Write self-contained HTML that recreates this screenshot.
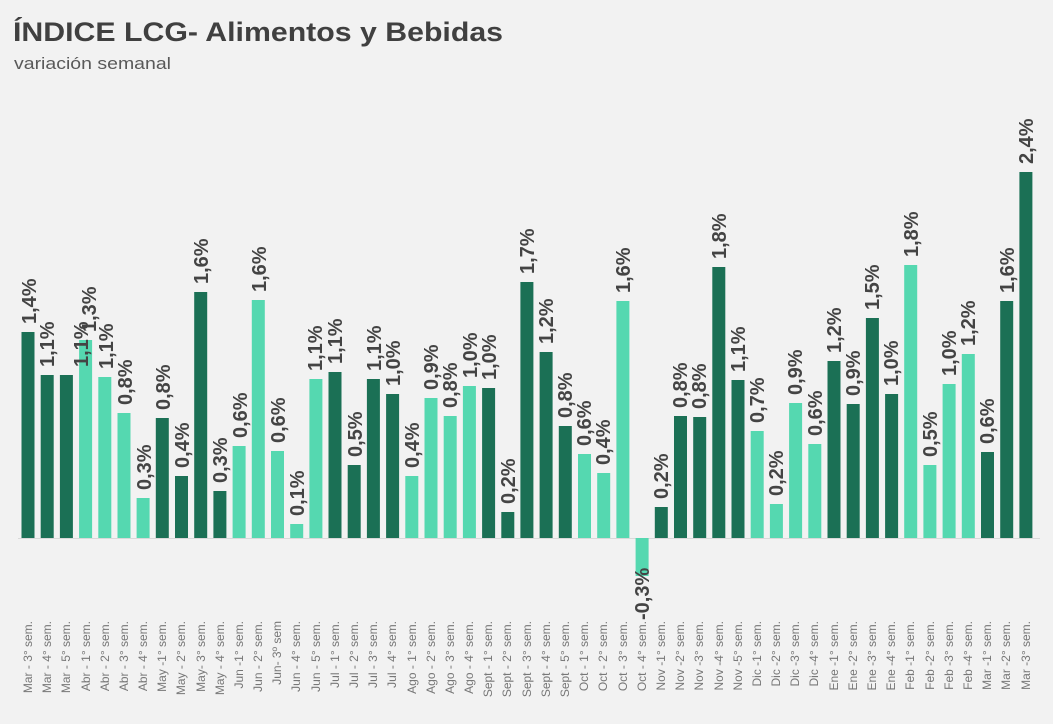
<!DOCTYPE html>
<html><head><meta charset="utf-8"><style>
html,body{margin:0;padding:0;background:#f2f2f2;}
svg{display:block;}
.d{fill:#1b7055}.l{fill:#55d8b0}
.v{font:bold 20px "Liberation Sans",sans-serif;fill:#444;}
.x{font:12px "Liberation Sans",sans-serif;fill:#777;}
</style></head><body>
<svg width="1053" height="724" viewBox="0 0 1053 724">
<rect width="1053" height="724" fill="#f2f2f2"/>
<text x="13" y="41" font-family="Liberation Sans,sans-serif" font-weight="bold" font-size="27" fill="#404040" textLength="490" lengthAdjust="spacingAndGlyphs">ÍNDICE LCG- Alimentos y Bebidas</text>
<text x="14" y="69" font-family="Liberation Sans,sans-serif" font-size="17" fill="#595959" textLength="157" lengthAdjust="spacingAndGlyphs">variación semanal</text>
<line x1="18" y1="538.5" x2="1040" y2="538.5" stroke="#d9d9d9" stroke-width="1"/>
<g>
<rect class="d" x="21.5" y="332" width="13" height="206"/>
<rect class="d" x="40.7" y="375" width="13" height="163"/>
<rect class="d" x="59.9" y="375" width="13" height="163"/>
<rect class="l" x="79.1" y="340" width="13" height="198"/>
<rect class="l" x="98.3" y="377" width="13" height="161"/>
<rect class="l" x="117.5" y="413" width="13" height="125"/>
<rect class="l" x="136.6" y="498" width="13" height="40"/>
<rect class="d" x="155.8" y="418" width="13" height="120"/>
<rect class="d" x="175" y="476" width="13" height="62"/>
<rect class="d" x="194.2" y="292" width="13" height="246"/>
<rect class="d" x="213.4" y="491" width="13" height="47"/>
<rect class="l" x="232.6" y="446" width="13" height="92"/>
<rect class="l" x="251.8" y="300" width="13" height="238"/>
<rect class="l" x="271" y="451" width="13" height="87"/>
<rect class="l" x="290.2" y="524" width="13" height="14"/>
<rect class="l" x="309.4" y="379" width="13" height="159"/>
<rect class="d" x="328.5" y="372" width="13" height="166"/>
<rect class="d" x="347.7" y="465" width="13" height="73"/>
<rect class="d" x="366.9" y="379" width="13" height="159"/>
<rect class="d" x="386.1" y="394" width="13" height="144"/>
<rect class="l" x="405.3" y="476" width="13" height="62"/>
<rect class="l" x="424.5" y="398" width="13" height="140"/>
<rect class="l" x="443.7" y="416" width="13" height="122"/>
<rect class="l" x="462.9" y="386" width="13" height="152"/>
<rect class="d" x="482.1" y="388" width="13" height="150"/>
<rect class="d" x="501.3" y="512" width="13" height="26"/>
<rect class="d" x="520.4" y="282" width="13" height="256"/>
<rect class="d" x="539.6" y="352" width="13" height="186"/>
<rect class="d" x="558.8" y="426" width="13" height="112"/>
<rect class="l" x="578" y="454" width="13" height="84"/>
<rect class="l" x="597.2" y="473" width="13" height="65"/>
<rect class="l" x="616.4" y="301" width="13" height="237"/>
<rect class="l" x="635.6" y="538" width="13" height="38"/>
<rect class="d" x="654.8" y="507" width="13" height="31"/>
<rect class="d" x="674" y="416" width="13" height="122"/>
<rect class="d" x="693.2" y="417" width="13" height="121"/>
<rect class="d" x="712.3" y="267" width="13" height="271"/>
<rect class="d" x="731.5" y="380" width="13" height="158"/>
<rect class="l" x="750.7" y="431" width="13" height="107"/>
<rect class="l" x="769.9" y="504" width="13" height="34"/>
<rect class="l" x="789.1" y="403" width="13" height="135"/>
<rect class="l" x="808.3" y="444" width="13" height="94"/>
<rect class="d" x="827.5" y="361" width="13" height="177"/>
<rect class="d" x="846.7" y="404" width="13" height="134"/>
<rect class="d" x="865.9" y="318" width="13" height="220"/>
<rect class="d" x="885.1" y="394" width="13" height="144"/>
<rect class="l" x="904.2" y="265" width="13" height="273"/>
<rect class="l" x="923.4" y="465" width="13" height="73"/>
<rect class="l" x="942.6" y="384" width="13" height="154"/>
<rect class="l" x="961.8" y="354" width="13" height="184"/>
<rect class="d" x="981" y="452" width="13" height="86"/>
<rect class="d" x="1000.2" y="301" width="13" height="237"/>
<rect class="d" x="1019.4" y="172" width="13" height="366"/>
</g>
<g class="v">
<text transform="translate(36,324) rotate(-90)">1,4%</text>
<text transform="translate(54,367) rotate(-90)">1,1%</text>
<text transform="translate(88,367) rotate(-90)">1,1%</text>
<text transform="translate(96,332) rotate(-90)">1,3%</text>
<text transform="translate(113,369) rotate(-90)">1,1%</text>
<text transform="translate(132,405) rotate(-90)">0,8%</text>
<text transform="translate(151,490) rotate(-90)">0,3%</text>
<text transform="translate(170,410) rotate(-90)">0,8%</text>
<text transform="translate(189,468) rotate(-90)">0,4%</text>
<text transform="translate(208,284) rotate(-90)">1,6%</text>
<text transform="translate(227,483) rotate(-90)">0,3%</text>
<text transform="translate(247,438) rotate(-90)">0,6%</text>
<text transform="translate(266,292) rotate(-90)">1,6%</text>
<text transform="translate(285,443) rotate(-90)">0,6%</text>
<text transform="translate(304,516) rotate(-90)">0,1%</text>
<text transform="translate(322,371) rotate(-90)">1,1%</text>
<text transform="translate(342,364) rotate(-90)">1,1%</text>
<text transform="translate(362,457) rotate(-90)">0,5%</text>
<text transform="translate(381,371) rotate(-90)">1,1%</text>
<text transform="translate(400,386) rotate(-90)">1,0%</text>
<text transform="translate(419,468) rotate(-90)">0,4%</text>
<text transform="translate(438,390) rotate(-90)">0,9%</text>
<text transform="translate(457,408) rotate(-90)">0,8%</text>
<text transform="translate(477,378) rotate(-90)">1,0%</text>
<text transform="translate(496,380) rotate(-90)">1,0%</text>
<text transform="translate(515,504) rotate(-90)">0,2%</text>
<text transform="translate(534,274) rotate(-90)">1,7%</text>
<text transform="translate(553,344) rotate(-90)">1,2%</text>
<text transform="translate(572,418) rotate(-90)">0,8%</text>
<text transform="translate(591,446) rotate(-90)">0,6%</text>
<text transform="translate(610,465) rotate(-90)">0,4%</text>
<text transform="translate(630,293) rotate(-90)">1,6%</text>
<text transform="translate(649,620) rotate(-90)">-0,3%</text>
<text transform="translate(668,499) rotate(-90)">0,2%</text>
<text transform="translate(687,408) rotate(-90)">0,8%</text>
<text transform="translate(706,409) rotate(-90)">0,8%</text>
<text transform="translate(726,259) rotate(-90)">1,8%</text>
<text transform="translate(745,372) rotate(-90)">1,1%</text>
<text transform="translate(764,423) rotate(-90)">0,7%</text>
<text transform="translate(783,496) rotate(-90)">0,2%</text>
<text transform="translate(802,395) rotate(-90)">0,9%</text>
<text transform="translate(822,436) rotate(-90)">0,6%</text>
<text transform="translate(841,353) rotate(-90)">1,2%</text>
<text transform="translate(860,396) rotate(-90)">0,9%</text>
<text transform="translate(879,310) rotate(-90)">1,5%</text>
<text transform="translate(898,386) rotate(-90)">1,0%</text>
<text transform="translate(918,257) rotate(-90)">1,8%</text>
<text transform="translate(937,457) rotate(-90)">0,5%</text>
<text transform="translate(956,376) rotate(-90)">1,0%</text>
<text transform="translate(975,346) rotate(-90)">1,2%</text>
<text transform="translate(994,444) rotate(-90)">0,6%</text>
<text transform="translate(1014,293) rotate(-90)">1,6%</text>
<text transform="translate(1033,164) rotate(-90)">2,4%</text>
</g>
<g class="x" text-anchor="end">
<text transform="translate(32,621) rotate(-90)">Mar - 3° sem.</text>
<text transform="translate(51,621) rotate(-90)">Mar - 4° sem.</text>
<text transform="translate(70,621) rotate(-90)">Mar - 5° sem.</text>
<text transform="translate(90,621) rotate(-90)">Abr - 1° sem.</text>
<text transform="translate(109,621) rotate(-90)">Abr - 2° sem.</text>
<text transform="translate(128,621) rotate(-90)">Abr - 3° sem.</text>
<text transform="translate(147,621) rotate(-90)">Abr - 4° sem.</text>
<text transform="translate(166,621) rotate(-90)">May -1° sem.</text>
<text transform="translate(185,621) rotate(-90)">May - 2° sem.</text>
<text transform="translate(205,621) rotate(-90)">May- 3° sem.</text>
<text transform="translate(224,621) rotate(-90)">May - 4° sem.</text>
<text transform="translate(243,621) rotate(-90)">Jun -1° sem.</text>
<text transform="translate(262,621) rotate(-90)">Jun - 2° sem.</text>
<text transform="translate(281,621) rotate(-90)">Jun- 3º sem</text>
<text transform="translate(300,621) rotate(-90)">Jun - 4° sem.</text>
<text transform="translate(320,621) rotate(-90)">Jun - 5° sem.</text>
<text transform="translate(339,621) rotate(-90)">Jul - 1° sem.</text>
<text transform="translate(358,621) rotate(-90)">Jul - 2° sem.</text>
<text transform="translate(377,621) rotate(-90)">Jul - 3° sem.</text>
<text transform="translate(396,621) rotate(-90)">Jul - 4° sem.</text>
<text transform="translate(416,621) rotate(-90)">Ago - 1° sem.</text>
<text transform="translate(435,621) rotate(-90)">Ago - 2° sem.</text>
<text transform="translate(454,621) rotate(-90)">Ago - 3° sem.</text>
<text transform="translate(473,621) rotate(-90)">Ago - 4° sem.</text>
<text transform="translate(492,621) rotate(-90)">Sept - 1° sem.</text>
<text transform="translate(511,621) rotate(-90)">Sept - 2° sem.</text>
<text transform="translate(531,621) rotate(-90)">Sept - 3° sem.</text>
<text transform="translate(550,621) rotate(-90)">Sept - 4° sem.</text>
<text transform="translate(569,621) rotate(-90)">Sept - 5° sem.</text>
<text transform="translate(588,621) rotate(-90)">Oct - 1° sem.</text>
<text transform="translate(607,621) rotate(-90)">Oct - 2° sem.</text>
<text transform="translate(627,621) rotate(-90)">Oct - 3° sem.</text>
<text transform="translate(646,621) rotate(-90)">Oct - 4° sem.</text>
<text transform="translate(665,621) rotate(-90)">Nov -1° sem.</text>
<text transform="translate(684,621) rotate(-90)">Nov -2° sem.</text>
<text transform="translate(703,621) rotate(-90)">Nov -3° sem.</text>
<text transform="translate(723,621) rotate(-90)">Nov -4° sem.</text>
<text transform="translate(742,621) rotate(-90)">Nov -5° sem.</text>
<text transform="translate(761,621) rotate(-90)">Dic -1° sem.</text>
<text transform="translate(780,621) rotate(-90)">Dic -2° sem.</text>
<text transform="translate(799,621) rotate(-90)">Dic -3° sem.</text>
<text transform="translate(818,621) rotate(-90)">Dic -4° sem.</text>
<text transform="translate(838,621) rotate(-90)">Ene -1° sem.</text>
<text transform="translate(857,621) rotate(-90)">Ene -2° sem.</text>
<text transform="translate(876,621) rotate(-90)">Ene -3° sem.</text>
<text transform="translate(895,621) rotate(-90)">Ene -4° sem.</text>
<text transform="translate(914,621) rotate(-90)">Feb -1° sem.</text>
<text transform="translate(934,621) rotate(-90)">Feb -2° sem.</text>
<text transform="translate(953,621) rotate(-90)">Feb -3° sem.</text>
<text transform="translate(972,621) rotate(-90)">Feb -4° sem.</text>
<text transform="translate(991,621) rotate(-90)">Mar -1° sem.</text>
<text transform="translate(1010,621) rotate(-90)">Mar -2° sem.</text>
<text transform="translate(1030,621) rotate(-90)">Mar -3° sem.</text>
</g>
</svg>
</body></html>
